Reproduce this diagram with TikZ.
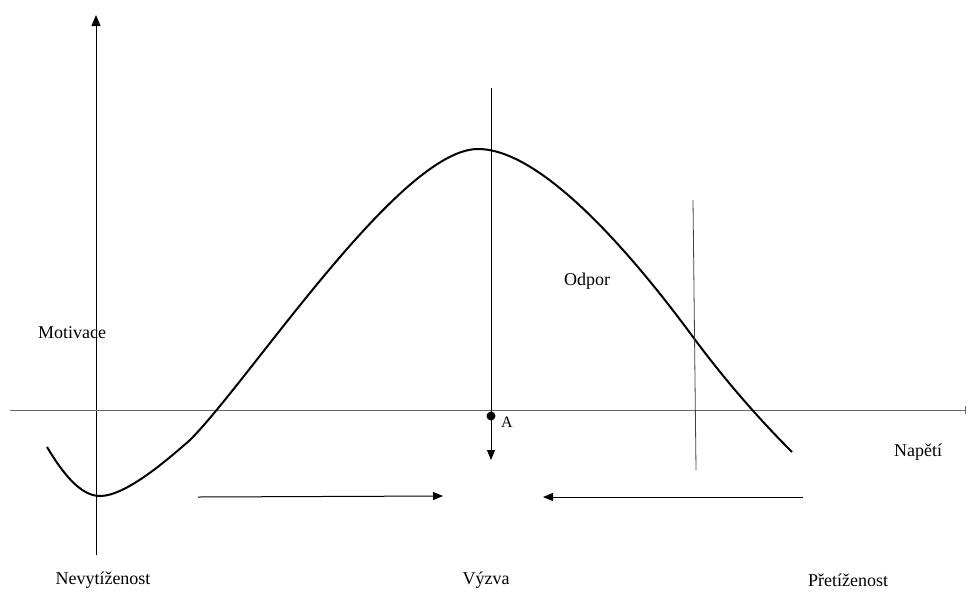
\documentclass[tikz,border=0pt]{standalone}
\usepackage{fontspec}
\setmainfont{Liberation Serif}
\usetikzlibrary{arrows.meta}

\begin{document}
\begin{tikzpicture}[x=1pt, y=-1pt,
    font=\fontsize{18}{21}\selectfont,
    lbl/.style={inner sep=0pt, anchor=center},
    axis/.style={line width=1pt, -{Triangle[length=11pt,width=9pt]}},
    flow/.style={line width=1pt, -{Triangle[length=10pt,width=8pt]}},
    thin line/.style={line width=0.8pt, black!75}]

  \useasboundingbox (0,0) rectangle (968,592);

  % axes
  \coordinate (ybot) at (96,555);
  \coordinate (ytop) at (96,15);
  \coordinate (xl) at (10,410);
  \coordinate (xr) at (966,410);
  \draw[axis] (ybot) -- (ytop);
  \draw[line width=1pt, black!60, -{Bar[width=8pt]}] (xl) -- (xr);

  % curve
  \coordinate (c0) at (47,447);
  \coordinate (cmin) at (100,496);
  \coordinate (c1) at (190,440);
  \coordinate (cpeak) at (478,149);
  \coordinate (c2) at (693,337);
  \coordinate (cend) at (792,452);
  \draw[line width=2pt, line join=round]
    (c0) .. controls (62,472) and (80,496) .. (cmin)
         .. controls (125,496) and (165,462) .. (c1)
         .. controls (250,380) and (400,149) .. (cpeak)
         .. controls (545,149) and (640,265) .. (c2)
         .. controls (733,391) and (770,430) .. (cend);

  % vertical line through A
  \coordinate (mtop) at (491,88);
  \coordinate (mbot) at (491,460);
  \draw[flow] (mtop) -- (mbot);
  \node[circle, fill, inner sep=0pt, minimum size=9pt] (a) at (491,416) {};
  \node[lbl, font=\fontsize{16}{19}\selectfont] (alab) at (507,422) {A};

  % overload limit
  \coordinate (otop) at (693,200);
  \coordinate (obot) at (696,470);
  \draw[thin line] (otop) -- (obot);

  % direction arrows
  \coordinate (l1) at (198,497);
  \coordinate (l2) at (443,496);
  \coordinate (r1) at (803,497);
  \coordinate (r2) at (543,497);
  \draw[flow] (l1) -- (l2);
  \draw[flow] (r1) -- (r2);

  % labels
  \node[lbl] (motiv) at (72,333) {Motivace};
  \node[lbl] (odpor) at (587,281) {Odpor};
  \node[lbl] (napeti) at (918,452) {Napětí};
  \node[lbl] (nevyt) at (103,580) {Nevytíženost};
  \node[lbl] (vyzva) at (486,580) {Výzva};
  \node[lbl] (pretiz) at (848,580) {Přetíženost};
\end{tikzpicture}
\end{document}
